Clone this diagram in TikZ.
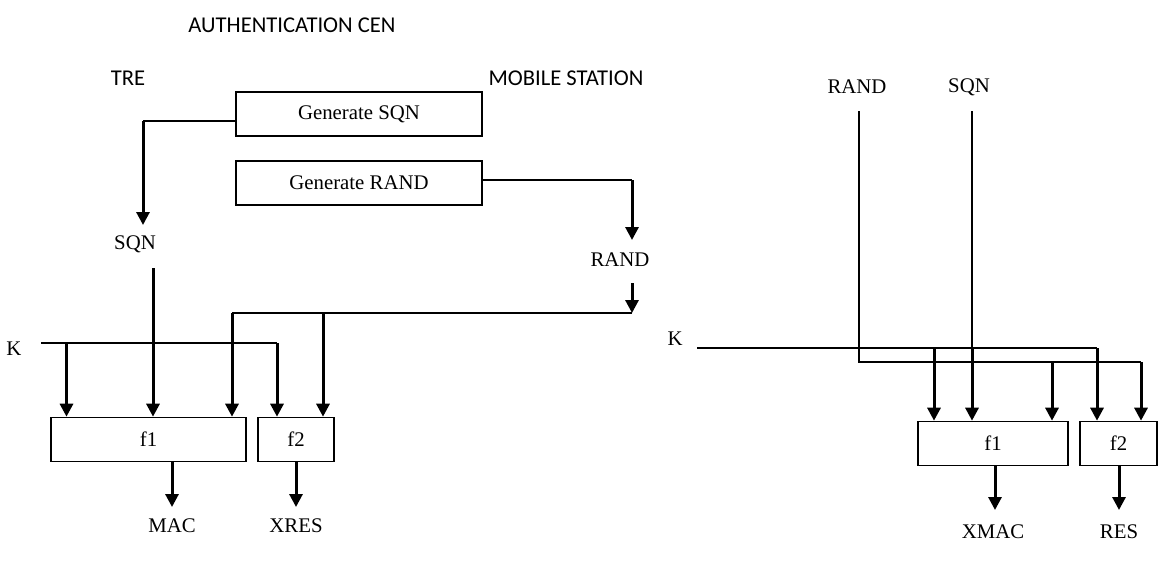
\documentclass[tikz,border=0pt]{standalone}
\usepackage{fontspec}
\setmainfont{Liberation Serif}
\newfontfamily\labelfont{Carlito}
\usetikzlibrary{arrows.meta}
\begin{document}
\begin{tikzpicture}[x=0.5pt,y=-0.5pt,
  box/.style={draw,line width=0.8pt,minimum height=22pt,inner sep=0pt,font=\fontsize{10.4}{12}\selectfont},
  lbl/.style={inner sep=0pt,font=\fontsize{10.4}{12}\selectfont},
  head/.style={inner sep=0pt,font=\labelfont\fontsize{11.3}{13}\selectfont},
  wire/.style={line width=0.75pt},
  flow/.style={line width=1.5pt,-{Triangle[width=6.5pt,length=6.5pt]}}]
  \useasboundingbox (0,0) rectangle (1165,574);
  \node[head] (auc) at (292,25) {AUTHENTICATION CEN};
  \node[head] (tre) at (128,78) {TRE};
  \node[head] (ms) at (566,78) {MOBILE STATION};
  \node[box,minimum width=123pt] (gsqn) at (359,114) {Generate SQN};
  \node[box,minimum width=123pt] (grand) at (359,183) {Generate RAND};
  \node[lbl] (sqn) at (135,244) {SQN};
  \node[lbl] (rand) at (620,260) {RAND};
  \node[lbl] (k) at (14,349) {K};
  \node[box,minimum width=97.5pt] (f1) at (148.5,439.5) {f1};
  \node[box,minimum width=38pt] (f2) at (296,439.5) {f2};
  \node[lbl] (mac) at (172,526) {MAC};
  \node[lbl] (xres) at (296,526) {XRES};
  \coordinate (sqnbend) at (143,121);
  \coordinate (sqntip) at (143,225);
  \coordinate (sqnout) at (153,268);
  \coordinate (randbend) at (632,180);
  \coordinate (randtip) at (632,240);
  \coordinate (randout) at (632,283);
  \coordinate (randjoin) at (632,313);
  \coordinate (randf1) at (232,313);
  \coordinate (randf2) at (323,313);
  \coordinate (kstart) at (41,343);
  \coordinate (kf1) at (66.5,343);
  \coordinate (kf2) at (277,343);
  \coordinate (mactip) at (172,507);
  \coordinate (xrestip) at (296,507);
  \draw[wire] ([yshift=-3.5pt]gsqn.west) -- (sqnbend);
  \draw[flow] (sqnbend) -- (sqntip);
  \draw[flow] (sqnout) -- (sqnout |- f1.north);
  \draw[wire] ([yshift=1.5pt]grand.east) -- (randbend);
  \draw[flow] (randbend) -- (randtip);
  \draw[flow] (randout) -- (randjoin);
  \draw[wire] (randjoin) -- (randf1);
  \draw[flow] (randf1) -- (randf1 |- f1.north);
  \draw[flow] (randf2) -- (randf2 |- f2.north);
  \draw[wire] (kstart) -- (kf2);
  \draw[flow] (kf1) -- (kf1 |- f1.north);
  \draw[flow] (kf2) -- (kf2 |- f2.north);
  \draw[flow] (mactip |- f1.south) -- (mactip);
  \draw[flow] (f2.south) -- (xrestip);
  \node[lbl] (rrand) at (857,87) {RAND};
  \node[lbl] (rsqn) at (969,87) {SQN};
  \node[lbl] (rk) at (675,339) {K};
  \node[box,minimum width=75pt] (rf1) at (993,443.5) {f1};
  \node[box,minimum width=38.5pt] (rf2) at (1118.5,443.5) {f2};
  \node[lbl] (xmac) at (993,532) {XMAC};
  \node[lbl] (res) at (1119,532) {RES};
  \coordinate (rrandtop) at (859,111);
  \coordinate (rrandbend) at (859,362);
  \coordinate (rrandend) at (1141,362);
  \coordinate (rrandf1) at (1052,362);
  \coordinate (rsqntop) at (972,111);
  \coordinate (rsqnk) at (972,348);
  \coordinate (rkstart) at (697,348);
  \coordinate (rkf1) at (934,348);
  \coordinate (rkf2) at (1097,348);
  \coordinate (xmactip) at (995,510);
  \coordinate (restip) at (1119,510);
  \draw[wire] (rrandtop) -- (rrandbend) -- (rrandend);
  \draw[wire] (rsqntop) -- (rsqnk);
  \draw[wire] (rkstart) -- (rkf2);
  \draw[flow] (rkf1) -- (rkf1 |- rf1.north);
  \draw[flow] (rsqnk) -- (rsqnk |- rf1.north);
  \draw[flow] (rrandf1) -- (rrandf1 |- rf1.north);
  \draw[flow] (rkf2) -- (rkf2 |- rf2.north);
  \draw[flow] (rrandend) -- (rrandend |- rf2.north);
  \draw[flow] (xmactip |- rf1.south) -- (xmactip);
  \draw[flow] (restip |- rf2.south) -- (restip);
\end{tikzpicture}
\end{document}
